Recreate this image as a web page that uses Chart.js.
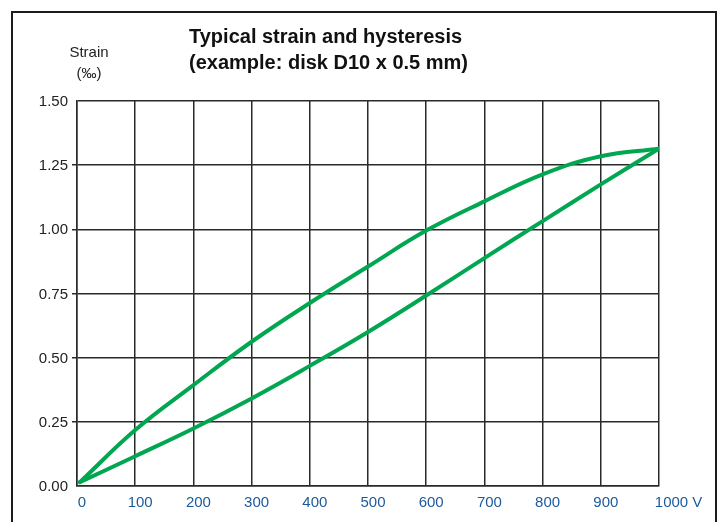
<!DOCTYPE html>
<html>
<head>
<meta charset="utf-8">
<script src="https://cdn.jsdelivr.net/npm/chart.js@4.4.1/dist/chart.umd.min.js"></script>
<style>
  html, body { margin: 0; padding: 0; background: #fff; overflow: hidden; width: 725px; height: 522px; }
  #wrap { position: relative; width: 725px; height: 522px; }
  #frame { position: absolute; left: 11px; top: 11px; width: 706px; height: 600px; box-sizing: border-box; border: 2px solid #1c1c1c; pointer-events: none; }
  canvas { position: absolute; left: 0; top: 0; }
</style>
</head>
<body>
<div id="wrap">
  <canvas id="c" width="725" height="522"></canvas>
  <div id="frame"></div>
</div>
<script>
// ---- data ----
const titleLines = ['Typical strain and hysteresis', '(example: disk D10 x 0.5 mm)'];
const yUnitLines = ['Strain', '(\u2030)'];
const xUnit = 'V';
const voltages = [5, 100, 200, 300, 400, 500, 600, 700, 800, 900, 1000];
const strainUpper = [0.015, 0.218, 0.393, 0.562, 0.713, 0.855, 0.995, 1.109, 1.214, 1.285, 1.314];
const strainLower = [0.015, 0.116, 0.224, 0.341, 0.468, 0.600, 0.742, 0.888, 1.032, 1.175, 1.314];
const xTicks = [0, 100, 200, 300, 400, 500, 600, 700, 800, 900, 1000];
const yTicks = [0, 0.25, 0.5, 0.75, 1.0, 1.25, 1.5];

const GREEN = '#00a650';
const GRID = '#2a2a2a';
const BLUE = '#1b5a9c';

const toPoints = (xs, ys) => xs.map((x, i) => ({ x: x, y: ys[i] }));

const textPlugin = {
  id: 'texts',
  afterDraw(chart) {
    const ctx = chart.ctx;
    ctx.save();
    ctx.fillStyle = '#111';
    ctx.textBaseline = 'alphabetic';
    ctx.textAlign = 'left';
    ctx.font = 'bold 20px "Liberation Sans", Arial, sans-serif';
    ctx.fillText(titleLines[0], 189, 43);
    ctx.fillText(titleLines[1], 189, 69);
    ctx.font = '15px "Liberation Sans", Arial, sans-serif';
    ctx.textAlign = 'center';
    ctx.fillStyle = '#222';
    ctx.fillText(yUnitLines[0], 89, 57);
    ctx.fillText(yUnitLines[1], 89, 78);
    ctx.restore();
  }
};

new Chart(document.getElementById('c'), {
  type: 'line',
  data: {
    datasets: [
      { data: toPoints(voltages, strainUpper), borderColor: GREEN, borderWidth: 4, pointRadius: 0, tension: 0.4, borderCapStyle: 'round', fill: false },
      { data: toPoints(voltages, strainLower), borderColor: GREEN, borderWidth: 4, pointRadius: 0, tension: 0.4, borderCapStyle: 'round', fill: false }
    ]
  },
  options: {
    responsive: false,
    animation: false,
    events: [],
    layout: { padding: { left: 0, right: 66, top: 101, bottom: 0 } },
    plugins: { legend: { display: false }, title: { display: false }, tooltip: { enabled: false } },
    scales: {
      x: {
        type: 'linear', min: 0, max: 1000,
        afterFit(s) { s.height = 36; },
        afterBuildTicks(s) { s.ticks = xTicks.map(v => ({ value: v })); },
        border: { display: true, color: GRID, width: 1.5 },
        grid: { color: GRID, lineWidth: 1.5, drawTicks: false },
        ticks: {
          color: BLUE, padding: 8, labelOffset: 5, maxRotation: 0, autoSkip: false,
          font: { family: '"Liberation Sans", Arial, sans-serif', size: 15 },
          callback: (v) => v === 1000 ? '       ' + v + ' ' + xUnit : String(v)
        }
      },
      y: {
        type: 'linear', min: 0, max: 1.5,
        afterFit(s) { s.width = 77; },
        afterBuildTicks(s) { s.ticks = yTicks.map(v => ({ value: v })); },
        border: { display: true, color: GRID, width: 1.5 },
        grid: {
          color: GRID, lineWidth: 1.5, drawTicks: true, tickLength: 5,
          tickColor: (c) => (c.tick && (c.tick.value === 0 || c.tick.value === 1.5)) ? 'rgba(0,0,0,0)' : GRID
        },
        ticks: {
          color: '#222', padding: 4, labelOffset: 1,
          font: { family: '"Liberation Sans", Arial, sans-serif', size: 15 },
          callback: (v) => Number(v).toFixed(2)
        }
      }
    }
  },
  plugins: [textPlugin]
});
</script>
</body>
</html>
